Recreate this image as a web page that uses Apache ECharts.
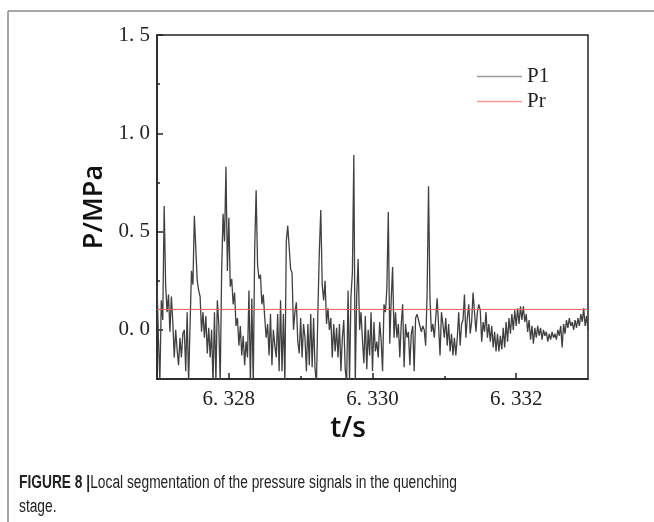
<!DOCTYPE html>
<html>
<head>
<meta charset="utf-8">
<script src="https://cdn.jsdelivr.net/npm/echarts@6/dist/echarts.min.js"></script>
<style>
  html, body { margin: 0; padding: 0; background: #fff; }
  #chart { width: 654px; height: 522px; }
</style>
</head>
<body>
<div id="chart"></div>
<script>
// sampling grid of the P1 trace
const T0 = 6.327;
const DT = 0.00002;

// P1 pressure, MPa
const p1Values = [
  0.24, -0.05, -0.26, 0.15, 0.05, 0.63, 0.23, 0.09, 0.18, -0.01,
  0.17, 0.04, -0.14, 0.00, -0.10, -0.18, -0.04, -0.14, -0.02, 0.00,
  -0.21, 0.09, -0.27, 0.02, 0.30, 0.23, 0.58, 0.57, 0.25, 0.20,
  0.17, -0.01, 0.09, -0.04, 0.07, -0.12, 0.01, -0.14, 0.00, -0.27,
  0.09, -0.26, 0.15, 0.03, -0.27, 0.30, 0.59, 0.45, 0.83, 0.30,
  0.57, 0.22, 0.26, 0.13, 0.19, 0.02, 0.06, -0.08, 0.02, -0.13,
  -0.03, -0.18, -0.06, -0.14, 0.20, -0.27, 0.16, -0.27, 0.41, 0.71,
  0.33, 0.26, 0.28, 0.13, 0.18, 0.06, -0.04, 0.03, -0.13, 0.08,
  -0.18, 0.00, -0.08, -0.14, 0.08, -0.21, 0.15, -0.21, 0.08, -0.27,
  0.45, 0.53, 0.52, 0.31, 0.29, 0.00, 0.09, 0.14, -0.06, -0.12,
  0.06, -0.14, 0.03, -0.04, -0.21, 0.03, -0.18, 0.08, -0.19, 0.06,
  -0.20, -0.27, 0.10, 0.40, 0.61, 0.23, 0.15, 0.25, 0.03, 0.11,
  0.00, 0.06, -0.14, 0.03, -0.11, 0.01, -0.14, 0.03, -0.21, -0.04,
  0.05, -0.20, -0.27, 0.20, -0.27, 0.17, 0.29, 0.89, -0.27, 0.17,
  0.36, 0.00, 0.09, -0.05, -0.17, 0.07, -0.20, 0.00, -0.13, 0.09,
  -0.21, 0.04, -0.11, -0.06, -0.14, 0.04, -0.05, -0.21, 0.13, 0.09,
  0.21, 0.60, -0.07, 0.15, 0.32, -0.04, 0.09, -0.04, 0.03, -0.14,
  0.03, 0.13, -0.19, 0.03, -0.04, -0.01, -0.18, -0.02, 0.02, -0.21,
  0.06, 0.08, 0.05, 0.06, -0.01, 0.02, 0.00, -0.08, 0.18, 0.73,
  0.16, -0.01, 0.03, -0.04, 0.06, 0.16, 0.02, -0.13, 0.09, 0.03,
  -0.04, 0.06, -0.08, 0.03, -0.11, -0.02, -0.13, -0.04, -0.13, -0.04,
  0.09, -0.08, 0.03, 0.05, 0.18, -0.04, 0.06, 0.13, -0.02, 0.04,
  0.19, 0.09, -0.01, 0.09, 0.13, 0.10, -0.06, 0.04, -0.01, 0.09,
  -0.04, 0.03, -0.06, 0.02, -0.09, -0.01, -0.11, -0.02, -0.11, -0.03,
  -0.10, 0.01, -0.09, 0.04, -0.06, 0.06, -0.02, 0.08, 0.00, 0.10,
  0.02, 0.11, 0.03, 0.12, 0.05, 0.12, 0.04, 0.08, -0.01, 0.05,
  -0.05, 0.02, -0.07, 0.01, -0.04, 0.02, -0.03, 0.01, -0.05, 0.00,
  -0.03, -0.01, -0.06, -0.02, -0.05, -0.01, -0.04, -0.02, -0.05, 0.00,
  -0.03, 0.02, -0.09, 0.03, -0.02, 0.05, 0.01, 0.06, 0.02, 0.04,
  0.00, 0.05, 0.01, 0.06, 0.02, 0.08, 0.04, 0.11, 0.02, 0.07,
  0.00
];

// Pr reference level, MPa
const prTimes = [6.327, 6.333];
const prValues = [0.104, 0.104];

// axis ticks
const xMajorTicks = [6.328, 6.330, 6.332];
const xMinorTicks = [6.329, 6.331];
const yMajorTicks = [0, 0.5, 1.0, 1.5];
const yMinorTicks = [-0.25, 0.25, 0.75, 1.25];

const serif = "'Liberation Serif', 'DejaVu Serif', serif";
const sans = "'Open Sans', 'Noto Sans', sans-serif";
const capFont = "'Liberation Sans', sans-serif";

const chart = echarts.init(document.getElementById('chart'), null, { renderer: 'canvas' });

const p1Data = p1Values.map((v, i) => [T0 + i * DT, v]);
const prData = prTimes.map((t, i) => [t, prValues[i]]);

const tickStyle = { color: '#222', width: 1.5 };

const option = {
  backgroundColor: '#fff',
  animation: false,
  grid: {
    left: 157, right: 66, top: 35, bottom: 143,
    show: true, borderColor: '#222', borderWidth: 1.5,
    outerBoundsMode: 'none'
  },
  legend: {
    orient: 'vertical',
    left: 472, top: 61,
    itemWidth: 45, itemHeight: 1.3, itemGap: 4,
    icon: 'rect',
    textStyle: { fontFamily: serif, fontSize: 21, color: '#222' },
    data: [
      { name: 'P1', itemStyle: { color: '#9a9a9a' } },
      { name: 'Pr', itemStyle: { color: '#f29a9a' } }
    ]
  },
  xAxis: [
    {
      type: 'value', min: 6.327, max: 6.333, position: 'bottom',
      axisLine: { show: true, onZero: false, lineStyle: tickStyle },
      axisTick: { show: true, inside: true, length: 6, customValues: xMajorTicks, lineStyle: tickStyle },
      axisLabel: {
        customValues: xMajorTicks, margin: 10,
        fontFamily: serif, fontSize: 21, color: '#222',
        formatter: v => v.toFixed(3).replace('.', '. ')
      },
      splitLine: { show: false },
      name: 't/s', nameLocation: 'middle', nameGap: 29,
      nameTextStyle: { fontFamily: sans, fontSize: 28, fontWeight: 600, color: '#111', padding: [0, 49, 0, 0] }
    },
    {
      type: 'value', min: 6.327, max: 6.333, position: 'bottom',
      axisLine: { show: false, onZero: false },
      axisTick: { show: true, inside: true, length: 3, customValues: xMinorTicks, lineStyle: tickStyle },
      axisLabel: { show: false },
      splitLine: { show: false }
    }
  ],
  yAxis: [
    {
      type: 'value', min: -0.25, max: 1.5, position: 'left',
      axisLine: { show: true, onZero: false, lineStyle: tickStyle },
      axisTick: { show: true, inside: true, length: 6, customValues: yMajorTicks, lineStyle: tickStyle },
      axisLabel: {
        customValues: yMajorTicks, margin: 7,
        fontFamily: serif, fontSize: 21, color: '#222',
        formatter: v => v.toFixed(1).replace('.', '. ')
      },
      splitLine: { show: false },
      name: 'P/MPa', nameLocation: 'middle', nameGap: 48,
      nameTextStyle: { fontFamily: sans, fontSize: 27, fontWeight: 600, color: '#111' }
    },
    {
      type: 'value', min: -0.25, max: 1.5, position: 'left',
      axisLine: { show: false, onZero: false },
      axisTick: { show: true, inside: true, length: 3, customValues: yMinorTicks, lineStyle: tickStyle },
      axisLabel: { show: false },
      splitLine: { show: false }
    }
  ],
  series: [
    {
      name: 'P1', type: 'line', data: p1Data,
      xAxisIndex: 0, yAxisIndex: 0,
      symbol: 'none', clip: true,
      lineStyle: { color: '#404040', width: 1.3 },
      itemStyle: { color: '#404040' }
    },
    {
      name: 'Pr', type: 'line', data: prData,
      xAxisIndex: 0, yAxisIndex: 0,
      symbol: 'none', clip: true,
      lineStyle: { color: '#f05a5a', width: 1 },
      itemStyle: { color: '#f05a5a' }
    }
  ],
  graphic: [
    { type: 'line', shape: { x1: 8, y1: 11, x2: 654, y2: 11 }, style: { stroke: '#888', lineWidth: 1.5 } },
    { type: 'line', shape: { x1: 8, y1: 11, x2: 8, y2: 522 }, style: { stroke: '#888', lineWidth: 1.5 } },
    {
      type: 'text', x: 19, y: 483, scaleX: 0.765,
      style: {
        text: '{b|FIGURE 8 |}{n|Local segmentation of the pressure signals in the quenching}',
        verticalAlign: 'middle',
        rich: {
          b: { fontFamily: capFont, fontSize: 18, fontWeight: 'bold', fill: '#222' },
          n: { fontFamily: capFont, fontSize: 18, fill: '#222' }
        }
      }
    },
    {
      type: 'text', x: 19, y: 507, scaleX: 0.765,
      style: {
        text: 'stage.', verticalAlign: 'middle',
        fontFamily: capFont, fontSize: 18, fill: '#222'
      }
    }
  ]
};

chart.setOption(option);
</script>
</body>
</html>
